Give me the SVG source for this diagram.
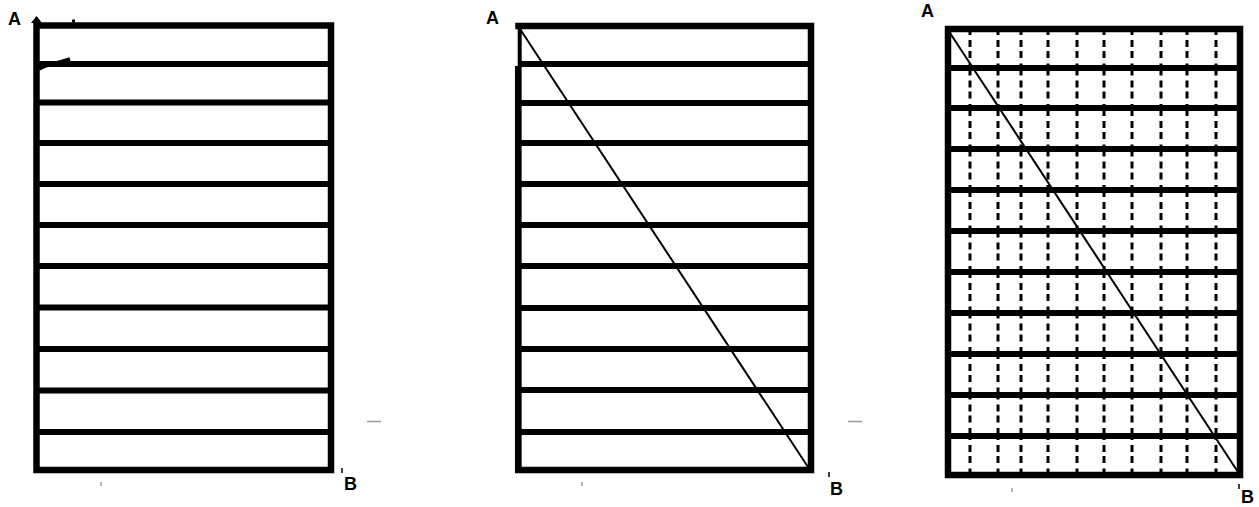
<svg xmlns="http://www.w3.org/2000/svg" width="1259" height="507" viewBox="0 0 1259 507">
<style>
.bd{fill:none;stroke:#000;stroke-width:6.5;stroke-linecap:square}
.hl{stroke:#000;stroke-width:6}
.dg{stroke:#000;stroke-width:2}
.ds{stroke:#000;stroke-width:3;stroke-dasharray:12 5 7 4 7 5.5;stroke-dashoffset:6}
.lb{font-family:"Liberation Sans",Arial,sans-serif;font-weight:bold;font-size:18px;fill:#000}
.tk{stroke:#000;stroke-width:1.5}
.gm{stroke:#999;stroke-width:1.5}
</style>
<rect width="1259" height="507" fill="#fff"/>
<g id="panel1">
<rect class="bd" x="36.5" y="25.5" width="294.5" height="444.5"/>
<path class="hl" d="M36 64H331M36 102.5H331M36 143H331M36 184H331M36 225H331M36 266H331M36 307.5H331M36 349H331M36 390.5H331M36 432H331"/>
<polygon points="31,23 36.5,16 42,23" fill="#000"/>
<rect x="72" y="19.5" width="3" height="3" fill="#000"/>
<path d="M39 69 C45 66 52 63 60 62 L70 59" fill="none" stroke="#000" stroke-width="3.5"/>
<text class="lb" x="8" y="25">A</text>
<text class="lb" x="344" y="490">B</text>
<line class="tk" x1="342" y1="468" x2="342" y2="473"/>
<line class="gm" x1="367" y1="421.5" x2="381" y2="421.5"/>
<line class="gm" x1="101" y1="482" x2="101" y2="486"/>
</g>
<g id="panel2">
<path d="M518.5 26H811V470H518.5" fill="none" stroke="#000" stroke-width="6.5" stroke-linecap="square"/>
<line x1="519.7" y1="23" x2="519.7" y2="67" stroke="#000" stroke-width="4"/>
<line x1="518.3" y1="66" x2="518.3" y2="473" stroke="#000" stroke-width="6.7"/>
<path class="hl" d="M518 64H811M518 103H811M518 143H811M518 184H811M518 225H811M518 266H811M518 308H811M518 349H811M518 390H811M518 432H811"/>
<line class="dg" x1="520" y1="29" x2="808" y2="467"/>
<text class="lb" x="486" y="24">A</text>
<text class="lb" x="830" y="495">B</text>
<line class="tk" x1="829" y1="472" x2="829" y2="477"/>
<line class="gm" x1="848" y1="421.5" x2="862" y2="421.5"/>
<line class="gm" x1="582" y1="482" x2="582" y2="486"/>
</g>
<g id="panel3">
<path class="ds" d="M970 29V475M998 29V475M1021 29V475M1048 29V475M1077 29V475M1104 29V475M1132 29V475M1161 29V475M1187 29V475M1216 29V475"/>
<rect class="bd" x="948" y="29" width="292" height="446" stroke-width="7"/>
<path class="hl" d="M948 68H1240M948 108H1240M948 149H1240M948 190H1240M948 231H1240M948 272H1240M948 313H1240M948 354H1240M948 395H1240M948 436H1240"/>
<line class="dg" x1="950" y1="33" x2="1238" y2="472"/>
<text class="lb" x="921" y="17">A</text>
<text class="lb" x="1241" y="503">B</text>
<line class="tk" x1="1239" y1="484" x2="1239" y2="489"/>
<line class="gm" x1="1012" y1="488" x2="1012" y2="492"/>
</g>
<g id="connectors"></g>
</svg>
